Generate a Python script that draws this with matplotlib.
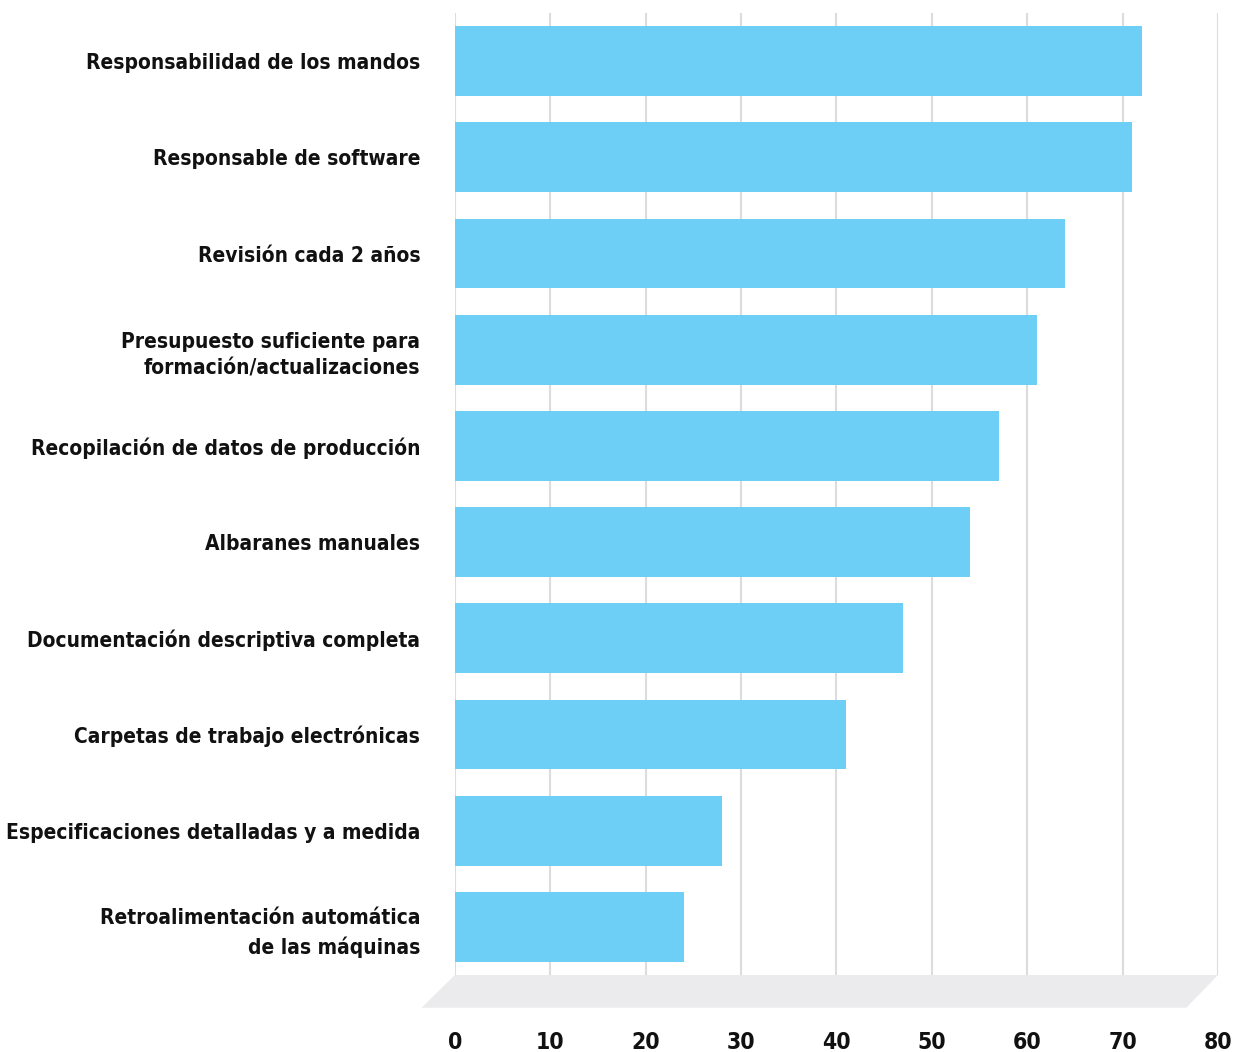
import matplotlib.pyplot as plt
from matplotlib.patches import Polygon
from matplotlib import font_manager

# datos
categorias = ['Responsabilidad de los mandos',
              'Responsable de software',
              'Revisión cada 2 años',
              'Presupuesto suficiente para\nformación/actualizaciones',
              'Recopilación de datos de producción',
              'Albaranes manuales',
              'Documentación descriptiva completa',
              'Carpetas de trabajo electrónicas',
              'Especificaciones detalladas y a medida',
              'Retroalimentación automática\nde las máquinas']
valores = [72, 71, 64, 61, 57, 54, 47, 41, 28, 24]
ticks = [0, 10, 20, 30, 40, 50, 60, 70, 80]

nombres = set(f.name for f in font_manager.fontManager.ttflist)
fuente = 'Liberation Sans Narrow' if 'Liberation Sans Narrow' in nombres else 'DejaVu Sans'
plt.rcParams['font.family'] = [fuente, 'DejaVu Sans']

fig = plt.figure(figsize=(12.37, 10.52), dpi=100)
ax = fig.add_axes([0.3678, 0.0732, 0.6168, 0.9144])

pos = list(range(len(categorias)))
ax.barh(pos, valores, height=0.727, color='#6dcff6', zorder=3)

ax.set_xlim(0, 80)
ax.set_ylim(9.5, -0.5)
ax.set_xticks(ticks)
ax.set_xticklabels([str(t) for t in ticks], fontsize=16.5, color='#111111')
ax.set_yticks(pos)
ax.set_yticklabels(categorias, fontsize=15, color='#111111', linespacing=1.45)
for lab in ax.get_yticklabels() + ax.get_xticklabels():
    lab.set_fontweight('bold')
    if fuente == 'DejaVu Sans':
        lab.set_fontstretch('condensed')

ax.tick_params(axis='y', length=0, pad=25)
ax.tick_params(axis='x', length=0, pad=40)
for s in ax.spines.values():
    s.set_visible(False)
ax.grid(axis='x', color='#dcdcdc', linewidth=1.5, zorder=0)
ax.set_axisbelow(True)

# suelo gris
suelo = Polygon([[0, 9.5], [80, 9.5], [76.7, 9.84], [-3.5, 9.84]],
                closed=True, facecolor='#ebebed', edgecolor='none',
                clip_on=False, zorder=1)
ax.add_patch(suelo)

plt.savefig('out.png', dpi=100)
